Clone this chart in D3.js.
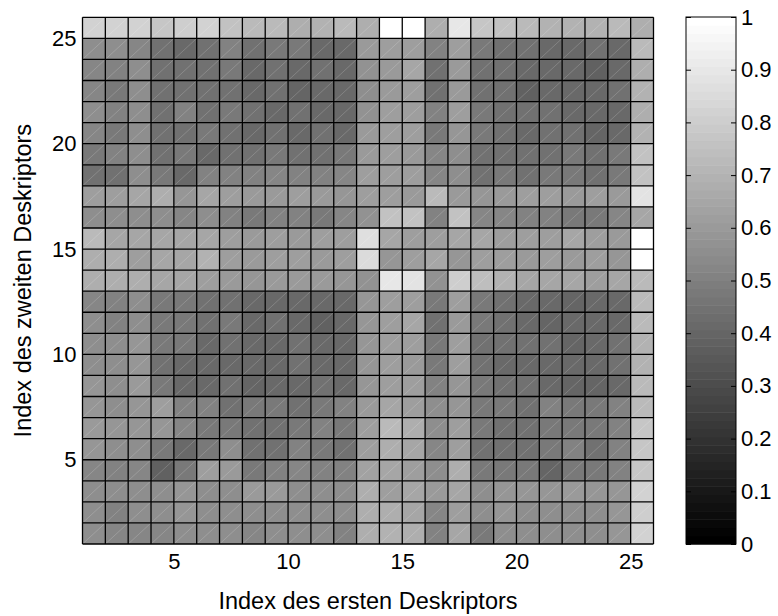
<!DOCTYPE html>
<html>
<head>
<meta charset="utf-8">
<script src="https://cdn.jsdelivr.net/npm/d3@7"></script>
<style>
  body { margin: 0; background: #fff; }
  text { font-family: "Liberation Sans", Arial, sans-serif; fill: #000; }
</style>
</head>
<body>
<div id="chart"></div>
<script>
// descriptor indices (1..25) on both axes
const colIndex = d3.range(1, 26)
// rows listed from top (index 25) down to bottom (index 1)
const rowIndex = d3.range(25, 0, -1)
const values = [
  [0.82,0.82,0.82,0.78,0.80,0.82,0.75,0.72,0.72,0.68,0.70,0.72,0.68,1.00,1.00,0.68,0.90,0.78,0.76,0.72,0.70,0.70,0.70,0.72,0.68],
  [0.55,0.55,0.52,0.45,0.42,0.45,0.50,0.45,0.48,0.48,0.42,0.42,0.60,0.62,0.62,0.50,0.62,0.48,0.45,0.45,0.42,0.42,0.45,0.42,0.72],
  [0.52,0.50,0.55,0.45,0.45,0.45,0.48,0.42,0.45,0.42,0.45,0.42,0.57,0.60,0.65,0.45,0.60,0.45,0.45,0.42,0.42,0.42,0.38,0.42,0.68],
  [0.52,0.48,0.55,0.45,0.45,0.45,0.45,0.42,0.45,0.40,0.42,0.42,0.55,0.60,0.62,0.45,0.60,0.45,0.45,0.38,0.42,0.42,0.42,0.45,0.70],
  [0.55,0.50,0.55,0.45,0.50,0.45,0.48,0.45,0.42,0.45,0.42,0.42,0.57,0.62,0.62,0.50,0.62,0.48,0.45,0.45,0.45,0.42,0.42,0.42,0.68],
  [0.52,0.48,0.55,0.45,0.45,0.48,0.45,0.42,0.45,0.42,0.45,0.42,0.60,0.62,0.62,0.48,0.58,0.48,0.45,0.42,0.45,0.45,0.40,0.42,0.70],
  [0.48,0.50,0.55,0.45,0.48,0.42,0.45,0.45,0.48,0.45,0.45,0.48,0.60,0.62,0.60,0.52,0.55,0.45,0.45,0.45,0.45,0.48,0.45,0.48,0.75],
  [0.45,0.45,0.55,0.48,0.42,0.50,0.50,0.50,0.52,0.50,0.50,0.52,0.61,0.62,0.62,0.52,0.55,0.45,0.48,0.45,0.48,0.48,0.45,0.48,0.75],
  [0.62,0.62,0.65,0.68,0.58,0.65,0.62,0.60,0.60,0.62,0.60,0.58,0.61,0.62,0.60,0.72,0.60,0.58,0.60,0.62,0.62,0.60,0.62,0.60,0.88],
  [0.55,0.55,0.55,0.55,0.52,0.55,0.50,0.48,0.50,0.50,0.48,0.52,0.57,0.75,0.75,0.50,0.75,0.52,0.52,0.50,0.50,0.48,0.48,0.52,0.65],
  [0.72,0.65,0.65,0.65,0.65,0.65,0.62,0.60,0.62,0.60,0.62,0.62,0.87,0.65,0.62,0.62,0.65,0.65,0.62,0.62,0.62,0.65,0.62,0.60,1.00],
  [0.68,0.68,0.62,0.65,0.65,0.70,0.62,0.60,0.62,0.62,0.60,0.62,0.85,0.58,0.62,0.65,0.58,0.62,0.62,0.60,0.62,0.60,0.62,0.58,1.00],
  [0.68,0.68,0.68,0.65,0.65,0.62,0.60,0.58,0.60,0.60,0.60,0.58,0.57,0.90,0.88,0.57,0.80,0.74,0.70,0.65,0.65,0.65,0.62,0.65,0.72],
  [0.52,0.50,0.55,0.48,0.48,0.45,0.45,0.42,0.42,0.42,0.42,0.42,0.59,0.62,0.62,0.48,0.62,0.48,0.45,0.42,0.42,0.40,0.42,0.42,0.72],
  [0.55,0.50,0.55,0.48,0.48,0.45,0.48,0.42,0.45,0.42,0.38,0.42,0.59,0.62,0.65,0.45,0.60,0.48,0.45,0.42,0.40,0.42,0.42,0.42,0.72],
  [0.55,0.55,0.58,0.48,0.48,0.42,0.45,0.42,0.42,0.45,0.42,0.42,0.59,0.62,0.62,0.48,0.62,0.45,0.45,0.45,0.45,0.40,0.42,0.45,0.70],
  [0.55,0.55,0.58,0.45,0.42,0.42,0.42,0.42,0.42,0.45,0.42,0.42,0.59,0.62,0.60,0.48,0.62,0.45,0.42,0.42,0.42,0.42,0.42,0.45,0.70],
  [0.58,0.55,0.60,0.48,0.42,0.42,0.45,0.40,0.42,0.42,0.45,0.42,0.58,0.62,0.62,0.50,0.58,0.48,0.45,0.45,0.42,0.40,0.40,0.42,0.72],
  [0.58,0.55,0.58,0.62,0.50,0.50,0.45,0.48,0.48,0.45,0.48,0.50,0.60,0.65,0.62,0.55,0.58,0.48,0.48,0.45,0.50,0.48,0.48,0.50,0.72],
  [0.60,0.58,0.58,0.58,0.52,0.48,0.48,0.45,0.45,0.48,0.50,0.48,0.62,0.72,0.68,0.55,0.62,0.48,0.45,0.45,0.48,0.48,0.48,0.50,0.78],
  [0.58,0.55,0.55,0.48,0.42,0.48,0.55,0.45,0.45,0.50,0.48,0.45,0.62,0.68,0.65,0.52,0.62,0.45,0.45,0.45,0.48,0.50,0.45,0.50,0.78],
  [0.52,0.50,0.52,0.38,0.48,0.62,0.60,0.48,0.50,0.52,0.50,0.50,0.63,0.65,0.62,0.55,0.68,0.48,0.48,0.48,0.40,0.48,0.48,0.50,0.78],
  [0.55,0.55,0.55,0.55,0.58,0.55,0.55,0.60,0.60,0.55,0.55,0.55,0.68,0.62,0.65,0.60,0.65,0.55,0.58,0.58,0.58,0.60,0.58,0.58,0.82],
  [0.55,0.50,0.55,0.55,0.58,0.55,0.55,0.55,0.55,0.55,0.55,0.55,0.68,0.68,0.65,0.52,0.62,0.55,0.58,0.55,0.55,0.55,0.55,0.58,0.80],
  [0.55,0.52,0.52,0.52,0.55,0.55,0.55,0.52,0.55,0.55,0.55,0.50,0.68,0.70,0.68,0.50,0.65,0.48,0.55,0.55,0.55,0.55,0.55,0.58,0.82]
]
const axisTicks = [5, 10, 15, 20, 25]
const colorTicks = [0, 0.1, 0.2, 0.3, 0.4, 0.5, 0.6, 0.7, 0.8, 0.9, 1]
const xLabel = "Index des ersten Deskriptors"
const yLabel = "Index des zweiten Deskriptors"
const nLevels = 64

const width = 778
const height = 616
const plot = { left: 82.5, right: 653.5, top: 17.3, bottom: 544 }
const bar = { left: 686, right: 736, top: 17, bottom: 544 }

const svg = d3.select("#chart").append("svg")
    .attr("width", width)
    .attr("height", height)

svg.append("rect").attr("width", width).attr("height", height).attr("fill", "#fff")

// cells span [i, i+1] like a faceted pcolor
const xScale = d3.scaleLinear().domain([1, 26]).range([plot.left, plot.right])
const yScale = d3.scaleLinear().domain([1, 26]).range([plot.bottom, plot.top])

// quantized gray colormap
const gray = v => {
    const lvl = Math.min(nLevels - 1, Math.floor(v * nLevels)) / (nLevels - 1)
    const g = Math.round(lvl * 255)
    return `rgb(${g},${g},${g})`
}

const cells = []
rowIndex.forEach((r, i) => {
    colIndex.forEach((c, j) => cells.push({ r, c, v: values[i][j] }))
})

const cellG = svg.append("g")
cellG.selectAll("rect")
    .data(cells)
    .join("rect")
    .attr("x", d => xScale(d.c))
    .attr("y", d => yScale(d.r + 1))
    .attr("width", d => xScale(d.c + 1) - xScale(d.c))
    .attr("height", d => yScale(d.r) - yScale(d.r + 1))
    .attr("fill", d => gray(d.v))

// faint diagonal seam in each cell
cellG.selectAll("line")
    .data(cells)
    .join("line")
    .attr("x1", d => xScale(d.c))
    .attr("y1", d => yScale(d.r))
    .attr("x2", d => xScale(d.c + 1))
    .attr("y2", d => yScale(d.r + 1))
    .attr("stroke", "#fff")
    .attr("stroke-opacity", 0.22)
    .attr("stroke-width", 0.8)

// grid edges
const gridG = svg.append("g").attr("stroke", "#000").attr("stroke-width", 1.3)
gridG.selectAll(".v")
    .data(d3.range(1, 27))
    .join("line")
    .attr("x1", d => xScale(d)).attr("x2", d => xScale(d))
    .attr("y1", plot.top).attr("y2", plot.bottom)
gridG.selectAll(".h")
    .data(d3.range(1, 27))
    .join("line")
    .attr("y1", d => yScale(d)).attr("y2", d => yScale(d))
    .attr("x1", plot.left).attr("x2", plot.right)

// axes
const xAxis = d3.axisBottom(xScale).tickValues(axisTicks).tickSize(0).tickPadding(9)
const yAxis = d3.axisLeft(yScale).tickValues(axisTicks).tickSize(0).tickPadding(6)

const xAxisG = svg.append("g")
    .attr("transform", `translate(0,${plot.bottom})`)
    .call(xAxis)
const yAxisG = svg.append("g")
    .attr("transform", `translate(${plot.left},0)`)
    .call(yAxis)

;[xAxisG, yAxisG].forEach(g => {
    g.select(".domain").remove()
    g.selectAll("text")
        .style("font-family", "'Liberation Sans', Arial, sans-serif")
        .attr("font-size", 22)
        .attr("fill", "#000")
})

svg.append("text")
    .attr("x", (plot.left + plot.right) / 2)
    .attr("y", 609)
    .attr("text-anchor", "middle")
    .attr("font-size", 23.5)
    .text(xLabel)

svg.append("text")
    .attr("transform", `translate(31,${(plot.top + plot.bottom) / 2}) rotate(-90)`)
    .attr("text-anchor", "middle")
    .attr("font-size", 23.5)
    .text(yLabel)

// colorbar
const cScale = d3.scaleLinear().domain([0, 1]).range([bar.bottom, bar.top])
const barG = svg.append("g")
barG.selectAll("rect")
    .data(d3.range(nLevels))
    .join("rect")
    .attr("x", bar.left)
    .attr("width", bar.right - bar.left)
    .attr("y", d => cScale((d + 1) / nLevels))
    .attr("height", d => cScale(d / nLevels) - cScale((d + 1) / nLevels) + 0.5)
    .attr("fill", d => gray((d + 0.5) / nLevels))

barG.append("rect")
    .attr("x", bar.left).attr("y", bar.top)
    .attr("width", bar.right - bar.left).attr("height", bar.bottom - bar.top)
    .attr("fill", "none").attr("stroke", "#000").attr("stroke-width", 1)

const cAxisR = d3.axisRight(cScale).tickValues(colorTicks).tickSize(-5).tickPadding(5)
    .tickFormat(d3.format("~g"))
const cAxisG = svg.append("g")
    .attr("transform", `translate(${bar.right},0)`)
    .call(cAxisR)
cAxisG.select(".domain").remove()
cAxisG.selectAll("text")
    .style("font-family", "'Liberation Sans', Arial, sans-serif")
    .attr("font-size", 22)
    .attr("fill", "#000")
cAxisG.selectAll("line").attr("stroke", "#000")

const cAxisL = d3.axisLeft(cScale).tickValues(colorTicks).tickSize(-5).tickFormat("")
const cAxisLG = svg.append("g")
    .attr("transform", `translate(${bar.left},0)`)
    .call(cAxisL)
cAxisLG.select(".domain").remove()
cAxisLG.selectAll("line").attr("stroke", "#000")
</script>
</body>
</html>
